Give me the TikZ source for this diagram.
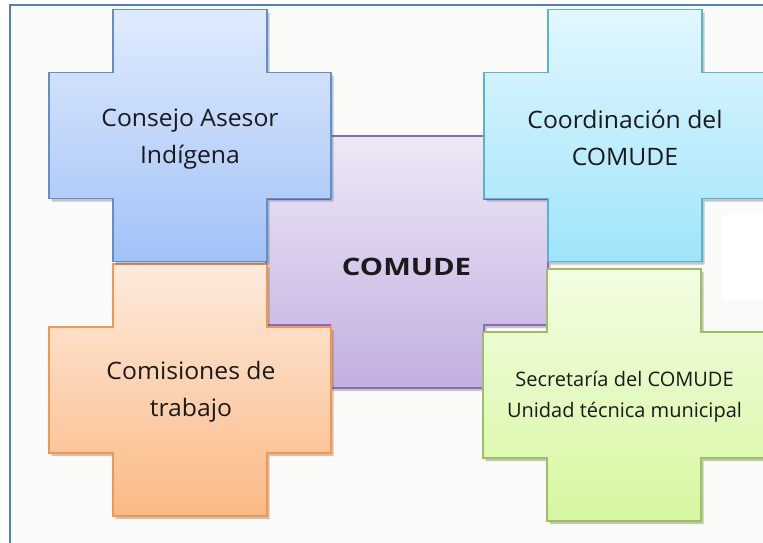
\documentclass[tikz,border=0pt]{standalone}
\usepackage{fontspec}
\setmainfont{Open Sans}
\usetikzlibrary{shadows}
\definecolor{frameblue}{HTML}{4F81BD}
\definecolor{pagebg}{HTML}{FAFAF8}
\definecolor{textcol}{HTML}{1A1A1A}
\definecolor{bluedraw}{HTML}{5E8FCF}
\definecolor{bluetop}{HTML}{E0EBFD}
\definecolor{bluebot}{HTML}{A2C2F7}
\definecolor{purpledraw}{HTML}{8A6CB0}
\definecolor{purpletop}{HTML}{EEE8F6}
\definecolor{purplebot}{HTML}{C3AEE1}
\definecolor{cyandraw}{HTML}{58B3CE}
\definecolor{cyantop}{HTML}{E2F7FE}
\definecolor{cyanbot}{HTML}{A0E4FA}
\definecolor{orangedraw}{HTML}{F5964A}
\definecolor{orangetop}{HTML}{FDEBDD}
\definecolor{orangebot}{HTML}{FBB985}
\definecolor{greendraw}{HTML}{9DBF5E}
\definecolor{greentop}{HTML}{F3FDE3}
\definecolor{greenbot}{HTML}{D6F7A0}
\newcommand\xcross[3]{%
  \path[#3]
    ({#1-77},{-(#2-126)}) -- ({#1+77},{-(#2-126)}) -- ({#1+77},{-(#2-63)}) --
    ({#1+141},{-(#2-63)}) -- ({#1+141},{-(#2+63)}) -- ({#1+77},{-(#2+63)}) --
    ({#1+77},{-(#2+126)}) -- ({#1-77},{-(#2+126)}) -- ({#1-77},{-(#2+63)}) --
    ({#1-141},{-(#2+63)}) -- ({#1-141},{-(#2-63)}) -- ({#1-77},{-(#2-63)}) -- cycle;}
\begin{document}
\begin{tikzpicture}[x=1pt,y=1pt,
  crossbase/.style={line width=1.5pt, line join=miter,
    drop shadow={shadow xshift=2.5pt, shadow yshift=-3pt, opacity=0.3, fill=black!70}},
  bluecross/.style={crossbase, draw=bluedraw, top color=bluetop, bottom color=bluebot},
  purplecross/.style={crossbase, draw=purpledraw, top color=purpletop, bottom color=purplebot},
  cyancross/.style={crossbase, draw=cyandraw, top color=cyantop, bottom color=cyanbot},
  orangecross/.style={crossbase, draw=orangedraw, top color=orangetop, bottom color=orangebot},
  greencross/.style={crossbase, draw=greendraw, top color=greentop, bottom color=greenbot},
  lbl/.style={font=\fontsize{24}{37}\selectfont\addfontfeature{FakeStretch=1.03}, align=center, text=textcol, inner sep=0pt},
  smalllbl/.style={font=\fontsize{20}{31}\selectfont, align=center, text=textcol, inner sep=0pt},
  boldlbl/.style={font=\fontsize{24}{30}\selectfont\bfseries\addfontfeature{FakeStretch=1.22}, text=textcol, inner sep=0pt}
]
\useasboundingbox (0,0) rectangle (763,-542);
\fill[white] (0,0) rectangle (763,-542);
\fill[pagebg] (10,-5) rectangle (775,-550);
\fill[white] (722,-215) rectangle (775,-300);
\draw[frameblue, line width=2pt] (10,-550) -- (10,-5) -- (775,-5);
% crosses
\xcross{407}{262}{purplecross}
\xcross{190}{390}{orangecross}
\xcross{624}{395}{greencross}
\xcross{190}{135.5}{bluecross}
\xcross{625}{135.5}{cyancross}
% labels
\node[lbl] (consejo) at (190,-139) {Consejo Asesor\\Indígena};
\node[lbl] (coord) at (625,-138) {Coordinación del\\COMUDE};
\node[lbl] (comis) at (191,-392) {Comisiones de\\trabajo};
\node[boldlbl, anchor=base] (comude) at (406.5,-275) {COMUDE};
\node[smalllbl] (secre) at (624.5,-397) {Secretaría del COMUDE\\Unidad técnica municipal};
\end{tikzpicture}
\end{document}
